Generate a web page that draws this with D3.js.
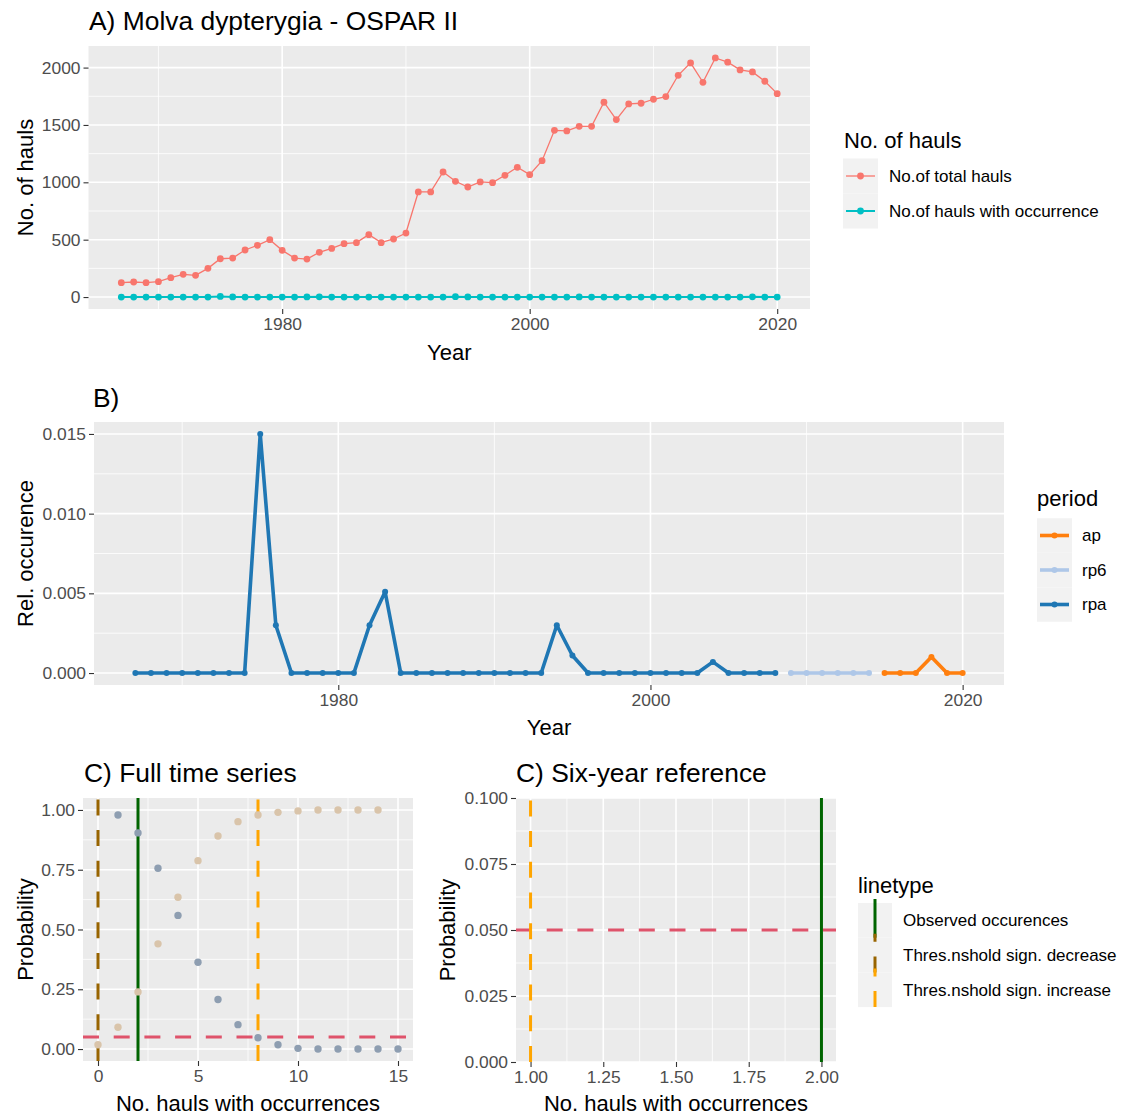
<!DOCTYPE html>
<html>
<head>
<meta charset="utf-8">
<script src="https://cdn.jsdelivr.net/npm/d3@7"></script>
<style>
body { margin: 0; background: #fff; }
svg { display: block; font-family: "Liberation Sans", Arial, sans-serif; }
</style>
</head>
<body>
<svg id="chart" width="1123" height="1115"></svg>
<script>
// ---- data ----
var years = d3.range(1967, 2021);
var totalHauls = [125, 131, 125, 134, 169, 198, 189, 250, 334, 340, 410, 451, 500, 407, 340, 331, 390, 424, 465, 474, 544, 474, 506, 558,
  916, 916, 1090, 1009, 959, 1003, 997, 1061, 1131, 1067, 1189, 1453, 1448, 1488, 1488, 1698, 1547, 1683, 1689, 1724, 1747,
  1933, 2041, 1872, 2084, 2047, 1980, 1962, 1881, 1773];
var occHauls = [0, 0, 0, 0, 0, 0, 0, 0, 5, 1, 0, 0, 0, 0, 0, 1, 2, 0, 0, 0, 0, 0, 0, 0, 0, 0, 0, 3, 1, 0,
  0, 0, 0, 0, 0, 0, 0, 1, 0, 0, 0, 0, 0, 0, 0, 0, 0, 0, 0, 0, 0, 2, 0, 0];
var haulSeries = ["No.of total hauls", "No.of hauls with occurrence"];
var haulColors = ["#F8766D", "#00BFC4"];

// relative occurrence per period
var yearsRpa = d3.range(1967, 2009);
var relRpa = [0, 0, 0, 0, 0, 0, 0, 0, 0.0150, 0.0030,
  0, 0, 0, 0, 0, 0.0030, 0.0051, 0, 0, 0,
  0, 0, 0, 0, 0, 0, 0, 0.0030, 0.0011, 0,
  0, 0, 0, 0, 0, 0, 0, 0.0007, 0, 0,
  0, 0];
var yearsRp6 = [2009, 2010, 2011, 2012, 2013, 2014];
var relRp6 = [0, 0, 0, 0, 0, 0];
var yearsAp = [2015, 2016, 2017, 2018, 2019, 2020];
var relAp = [0, 0, 0, 0.0010, 0, 0];
var periods = ["ap", "rp6", "rpa"];
var periodColors = ["#FF7F0E", "#AEC7E8", "#1F77B4"];

// probabilities for panel C
var kAbove = d3.range(1, 16);
var probAbove = [0.979, 0.904, 0.756, 0.559, 0.363, 0.207, 0.102, 0.047, 0.018, 0.003, 0, 0, 0, 0, 0];
var kBelow = d3.range(0, 15);
var probBelow = [0.018, 0.091, 0.239, 0.440, 0.635, 0.788, 0.891, 0.951, 0.979, 0.990, 0.996, 1, 1, 1, 1];
var alphaLevel = 0.05;
var fullThresholds = [2, 0, 8];   // observed, decrease, increase
var sixThresholds = [2, null, 1];
var linetypeNames = ["Observed occurences", "Thres.nshold sign. decrease", "Thres.nshold sign. increase"];
var linetypeColors = ["#006400", "#986400", "#FFA500"];
var linetypeDash = [null, "16 14.7", "16 14.7"];

var svg = d3.select("#chart");
var tickFont = "17.4px", legFont = "17px", titleFont = "22px";

function drawPanel(p) {
  var g = svg.append("g");
  var x0 = p.x.range()[0], x1 = p.x.range()[1];
  var yb = p.y.range()[0], yt = p.y.range()[1];
  g.append("rect").attr("x", x0).attr("y", yt).attr("width", x1 - x0).attr("height", yb - yt).attr("fill", "#EBEBEB");
  g.selectAll(null).data(p.xMinor).join("line")
    .attr("x1", d => p.x(d)).attr("x2", d => p.x(d)).attr("y1", yt).attr("y2", yb)
    .attr("stroke", "#fff").attr("stroke-width", 0.8);
  g.selectAll(null).data(p.yMinor).join("line")
    .attr("y1", d => p.y(d)).attr("y2", d => p.y(d)).attr("x1", x0).attr("x2", x1)
    .attr("stroke", "#fff").attr("stroke-width", 0.8);
  g.selectAll(null).data(p.xMajor).join("line")
    .attr("x1", d => p.x(d)).attr("x2", d => p.x(d)).attr("y1", yt).attr("y2", yb)
    .attr("stroke", "#fff").attr("stroke-width", 1.6);
  g.selectAll(null).data(p.yMajor).join("line")
    .attr("y1", d => p.y(d)).attr("y2", d => p.y(d)).attr("x1", x0).attr("x2", x1)
    .attr("stroke", "#fff").attr("stroke-width", 1.6);

  var ax = g.append("g").attr("transform", "translate(0," + yb + ")")
    .call(d3.axisBottom(p.x).tickValues(p.xMajor).tickFormat(p.xFmt).tickSize(5).tickPadding(4));
  var ay = g.append("g").attr("transform", "translate(" + x0 + ",0)")
    .call(d3.axisLeft(p.y).tickValues(p.yMajor).tickFormat(p.yFmt).tickSize(5).tickPadding(3));
  [ax, ay].forEach(function(a) {
    a.select(".domain").remove();
    a.selectAll("line").attr("stroke", "#333").attr("stroke-width", 1.1);
    a.selectAll("text").attr("fill", "#4D4D4D").style("font-size", tickFont).style("font-family", "inherit");
  });

  g.append("text").attr("x", p.titleX).attr("y", p.titleY).attr("dy", "0.35em")
    .style("font-size", "26.4px").text(p.title);
  g.append("text").attr("x", (x0 + x1) / 2).attr("y", p.xLabY).attr("dy", "0.35em")
    .attr("text-anchor", "middle").style("font-size", titleFont).text(p.xLab);
  g.append("text").attr("transform", "translate(" + p.yLabX + "," + (yt + yb) / 2 + ") rotate(-90)")
    .attr("dy", "0.35em").attr("text-anchor", "middle").style("font-size", titleFont).text(p.yLab);
  return g;
}

function legendTitle(x, y, txt) {
  svg.append("text").attr("x", x).attr("y", y).attr("dy", "0.35em").style("font-size", titleFont).text(txt);
}

// ---------- Panel A ----------
var xA = d3.scaleLinear().domain([1964.35, 2022.65]).range([88.5, 810]);
var yA = d3.scaleLinear().domain([-104.2, 2188.2]).range([309, 46]);
var gA = drawPanel({
  x: xA, y: yA, xMajor: [1980, 2000, 2020], xMinor: [1970, 1990, 2010],
  yMajor: [0, 500, 1000, 1500, 2000], yMinor: [250, 750, 1250, 1750],
  xFmt: d3.format("d"), yFmt: d3.format("d"),
  title: "A) Molva dypterygia - OSPAR II", titleX: 89, titleY: 21,
  xLab: "Year", xLabY: 352, yLab: "No. of hauls", yLabX: 25
});
var haulData = [totalHauls, occHauls];
var haulWidth = [1.3, 2];
haulData.forEach(function(vals, i) {
  var pts = years.map((yr, j) => [yr, vals[j]]);
  gA.append("path").datum(pts).attr("fill", "none").attr("stroke", haulColors[i]).attr("stroke-width", haulWidth[i])
    .attr("d", d3.line().x(d => xA(d[0])).y(d => yA(d[1])));
  gA.selectAll(null).data(pts).join("circle").attr("cx", d => xA(d[0])).attr("cy", d => yA(d[1]))
    .attr("r", 3.4).attr("fill", haulColors[i]);
});
legendTitle(844, 140, "No. of hauls");
haulSeries.forEach(function(name, i) {
  var cy = 176 + i * 35;
  svg.append("rect").attr("x", 843).attr("y", cy - 17.5).attr("width", 35).attr("height", 35).attr("fill", "#F2F2F2");
  svg.append("line").attr("x1", 846).attr("x2", 875).attr("y1", cy).attr("y2", cy)
    .attr("stroke", haulColors[i]).attr("stroke-width", haulWidth[i]);
  svg.append("circle").attr("cx", 860.5).attr("cy", cy).attr("r", 3.4).attr("fill", haulColors[i]);
  svg.append("text").attr("x", 889).attr("y", cy).attr("dy", "0.35em").style("font-size", legFont).text(name);
});

// ---------- Panel B ----------
var xB = d3.scaleLinear().domain([1964.35, 2022.65]).range([94, 1004]);
var yB = d3.scaleLinear().domain([-0.00075, 0.01575]).range([685, 422]);
var gB = drawPanel({
  x: xB, y: yB, xMajor: [1980, 2000, 2020], xMinor: [1970, 1990, 2010],
  yMajor: [0, 0.005, 0.010, 0.015], yMinor: [0.0025, 0.0075, 0.0125],
  xFmt: d3.format("d"), yFmt: d3.format(".3f"),
  title: "B)", titleX: 93, titleY: 398,
  xLab: "Year", xLabY: 727, yLab: "Rel. occurence", yLabX: 25
});
var periodData = [[yearsAp, relAp], [yearsRp6, relRp6], [yearsRpa, relRpa]];
periodData.forEach(function(pd, i) {
  var pts = pd[0].map((yr, j) => [yr, pd[1][j]]);
  gB.append("path").datum(pts).attr("fill", "none").attr("stroke", periodColors[i]).attr("stroke-width", 3.6)
    .attr("stroke-linejoin", "round").attr("d", d3.line().x(d => xB(d[0])).y(d => yB(d[1])));
  gB.selectAll(null).data(pts).join("circle").attr("cx", d => xB(d[0])).attr("cy", d => yB(d[1]))
    .attr("r", 3).attr("fill", periodColors[i]);
});
legendTitle(1037, 498, "period");
periods.forEach(function(name, i) {
  var cy = 535.5 + i * 34.5;
  svg.append("rect").attr("x", 1037).attr("y", cy - 17.25).attr("width", 35).attr("height", 34.5).attr("fill", "#F2F2F2");
  svg.append("line").attr("x1", 1040).attr("x2", 1069).attr("y1", cy).attr("y2", cy)
    .attr("stroke", periodColors[i]).attr("stroke-width", 3.6);
  svg.append("circle").attr("cx", 1054.5).attr("cy", cy).attr("r", 3).attr("fill", periodColors[i]);
  svg.append("text").attr("x", 1082).attr("y", cy).attr("dy", "0.35em").style("font-size", legFont).text(name);
});

// ---------- Panel C (full) ----------
var xC = d3.scaleLinear().domain([-0.75, 15.75]).range([83, 413]);
var yC = d3.scaleLinear().domain([-0.05, 1.05]).range([1061, 798]);
var gC = drawPanel({
  x: xC, y: yC, xMajor: [0, 5, 10, 15], xMinor: [2.5, 7.5, 12.5],
  yMajor: [0, 0.25, 0.5, 0.75, 1], yMinor: [0.125, 0.375, 0.625, 0.875],
  xFmt: d3.format("d"), yFmt: d3.format(".2f"),
  title: "C) Full time series", titleX: 84, titleY: 773,
  xLab: "No. hauls with occurrences", xLabY: 1103, yLab: "Probability", yLabX: 25
});

// alpha line, then the threshold vlines (drawn bottom-up like grid does)
function thresholdLines(g, x, y, thr) {
  var xr = x.range(), yr = y.range();
  g.append("line").attr("x1", xr[0]).attr("x2", xr[1]).attr("y1", y(alphaLevel)).attr("y2", y(alphaLevel))
    .attr("stroke", "#DF536B").attr("stroke-width", 3).attr("stroke-dasharray", "16 14.7");
  thr.forEach(function(v, i) {
    if (v === null) return;
    g.append("line").attr("x1", x(v)).attr("x2", x(v)).attr("y1", yr[0]).attr("y2", yr[1])
      .attr("stroke", linetypeColors[i]).attr("stroke-width", 3)
      .attr("stroke-dasharray", linetypeDash[i]);
  });
}
thresholdLines(gC, xC, yC, fullThresholds);
gC.selectAll(null).data(kBelow.map((k, j) => [k, probBelow[j]])).join("circle")
  .attr("cx", d => xC(d[0])).attr("cy", d => yC(d[1])).attr("r", 3.7).attr("fill", "#D9C4AA");
gC.selectAll(null).data(kAbove.map((k, j) => [k, probAbove[j]])).join("circle")
  .attr("cx", d => xC(d[0])).attr("cy", d => yC(d[1])).attr("r", 3.7).attr("fill", "#8E9EB1");

// ---------- Panel C (six-year) ----------
var xD = d3.scaleLinear().domain([0.95, 2.05]).range([516, 836]);
var yD = d3.scaleLinear().domain([0, 0.1]).range([1062, 798]);
var gD = drawPanel({
  x: xD, y: yD, xMajor: [1, 1.25, 1.5, 1.75, 2], xMinor: [1.125, 1.375, 1.625, 1.875],
  yMajor: [0, 0.025, 0.05, 0.075, 0.1], yMinor: [0.0125, 0.0375, 0.0625, 0.0875],
  xFmt: d3.format(".2f"), yFmt: d3.format(".3f"),
  title: "C) Six-year reference", titleX: 516, titleY: 773,
  xLab: "No. hauls with occurrences", xLabY: 1103, yLab: "Probability", yLabX: 447
});
thresholdLines(gD, xD, yD, sixThresholds);

legendTitle(858, 885, "linetype");
linetypeNames.forEach(function(name, i) {
  var top = 903 + i * 34.7;
  svg.append("rect").attr("x", 858).attr("y", top).attr("width", 34).attr("height", 34.7).attr("fill", "#F2F2F2");
});
linetypeNames.forEach(function(name, i) {
  var top = 903 + i * 34.7, cy = top + 17.35;
  svg.append("line").attr("x1", 875).attr("x2", 875).attr("y1", top + 34.7).attr("y2", top - 4)
    .attr("stroke", linetypeColors[i]).attr("stroke-width", 3).attr("stroke-dasharray", linetypeDash[i]);
  svg.append("text").attr("x", 903).attr("y", cy).attr("dy", "0.35em").style("font-size", legFont).text(name);
});
</script>
</body>
</html>
